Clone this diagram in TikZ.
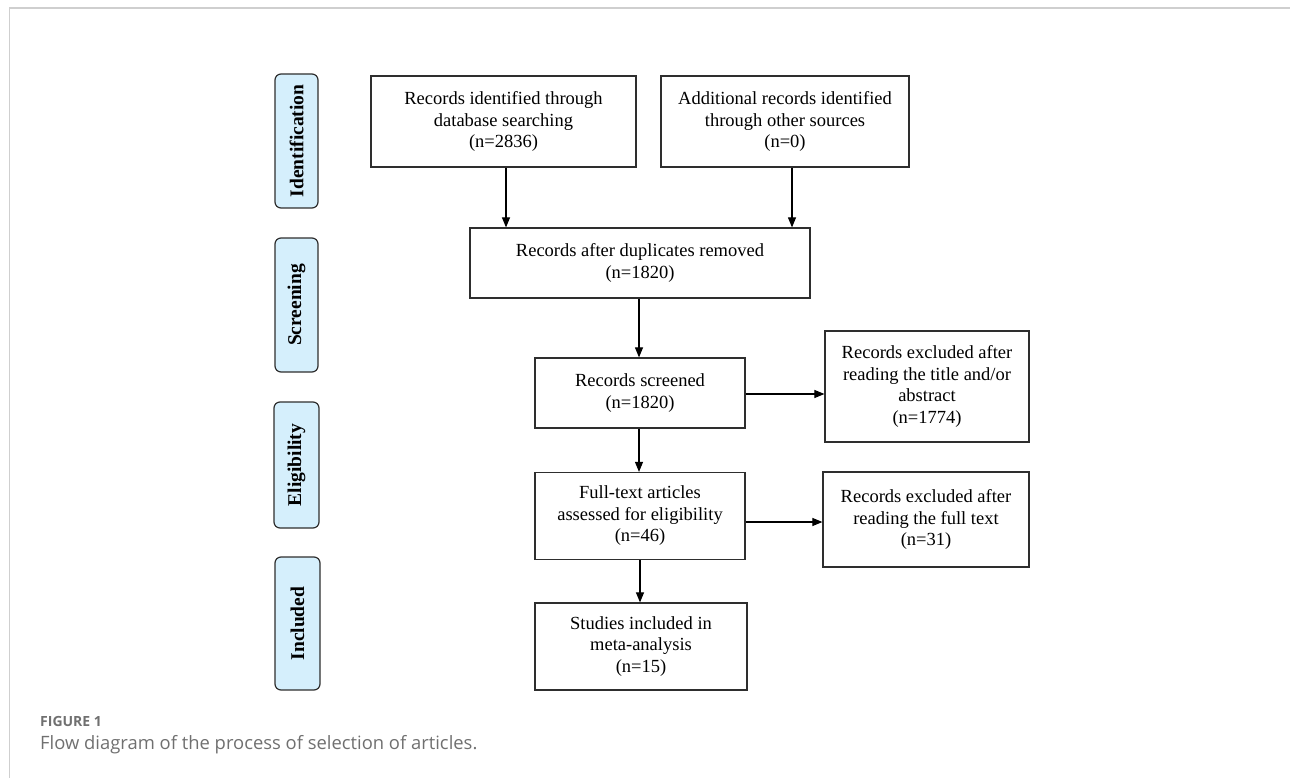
\documentclass[tikz,border=0pt]{standalone}
\usepackage{fontspec}
\setmainfont{Liberation Serif}
\newfontfamily\capfont{Open Sans}
\usetikzlibrary{arrows.meta}
\definecolor{lanefill}{HTML}{D5EFFC}
\definecolor{edgegray}{HTML}{2E2E2E}
\definecolor{framegray}{HTML}{CFCFCF}
\definecolor{capgray}{HTML}{707070}
\tikzset{
  flowbox/.style={draw=edgegray, line width=1.2pt, fill=white, align=center,
    inner sep=0pt, font=\fontsize{18.5}{21.5}\selectfont},
  lane/.style={draw=edgegray, line width=1.2pt, fill=lanefill, rounded corners=6pt,
    inner sep=0pt},
  lanetext/.style={rotate=90, font=\fontsize{19.5}{22}\selectfont\bfseries},
  arr/.style={draw=black, line width=1.1pt, -{Triangle[length=10pt,width=8pt]}},
}
\begin{document}
\begin{tikzpicture}[x=1pt,y=-1pt]
\useasboundingbox (0,0) rectangle (1290,778);
% frame
\draw[framegray, line width=2pt] (9,8) -- (1290,8);
\draw[framegray, line width=1pt] (9,8) -- (9,778);
% lanes
\node[lane, minimum width=43pt, minimum height=134pt] (lid) at (296.5,141) {};
\node[lanetext] at (lid.center) {Identification};
\node[lane, minimum width=43pt, minimum height=134pt] (lsc) at (296.5,305) {};
\node[lanetext] at (lsc.center) {Screening};
\node[lane, minimum width=45pt, minimum height=126pt] (lel) at (296.5,465) {};
\node[lanetext] at (lel.center) {Eligibility};
\node[lane, minimum width=45pt, minimum height=133pt] (lin) at (297.5,623.5) {};
\node[lanetext] at (lin.center) {Included};
% boxes
\node[flowbox, minimum width=265pt, minimum height=91pt] (b1) at (503.5,121.5)
  {Records identified through\\database searching\\(n=2836)};
\node[flowbox, minimum width=248pt, minimum height=91pt] (b2) at (785,121.5)
  {Additional records identified\\through other sources\\(n=0)};
\node[flowbox, minimum width=340pt, minimum height=70pt] (b3) at (640,263)
  {Records after duplicates removed\\(n=1820)};
\node[flowbox, minimum width=210pt, minimum height=70pt] (b4) at (640,393)
  {Records screened\\(n=1820)};
\node[flowbox, minimum width=204pt, minimum height=111pt] (b5) at (927,386.5)
  {Records excluded after\\reading the title and/or\\abstract\\(n=1774)};
\node[flowbox, minimum width=210pt, minimum height=87pt] (b6) at (640,516)
  {Full-text articles\\assessed for eligibility\\(n=46)};
\node[flowbox, minimum width=206pt, minimum height=95pt] (b7) at (926,519.5)
  {Records excluded after\\reading the full text\\(n=31)};
\node[flowbox, minimum width=212pt, minimum height=87pt] (b8) at (641,646.5)
  {Studies included in\\meta-analysis\\(n=15)};
% arrows
\draw[arr] ([xshift=2.5pt]b1.south) -- ([xshift=2.5pt]b1.south |- b3.north);
\draw[arr] ([xshift=7pt]b2.south) -- ([xshift=7pt]b2.south |- b3.north);
\draw[arr] ([xshift=-1pt]b3.south) -- ([xshift=-1pt]b3.south |- b4.north);
\draw[arr] ([yshift=-1pt]b4.east) -- ([yshift=-1pt]b4.east -| b5.west);
\draw[arr] ([xshift=-1pt]b4.south) -- ([xshift=-1pt]b4.south |- b6.north);
\draw[arr] ([yshift=-6pt]b6.east) -- ([yshift=-6pt]b6.east -| b7.west);
\draw[arr] (b6.south) -- (b6.south |- b8.north);
% caption
\node[anchor=base west, inner sep=0pt, text=capgray, font=\capfont\fontsize{14}{16}\selectfont\bfseries] (cap1) at (40,726) {FIGURE 1};
\node[anchor=base west, inner sep=0pt, text=capgray, font=\capfont\fontsize{18.4}{22}\selectfont] (cap2) at (40,749) {Flow diagram of the process of selection of articles.};
\end{tikzpicture}
\end{document}
